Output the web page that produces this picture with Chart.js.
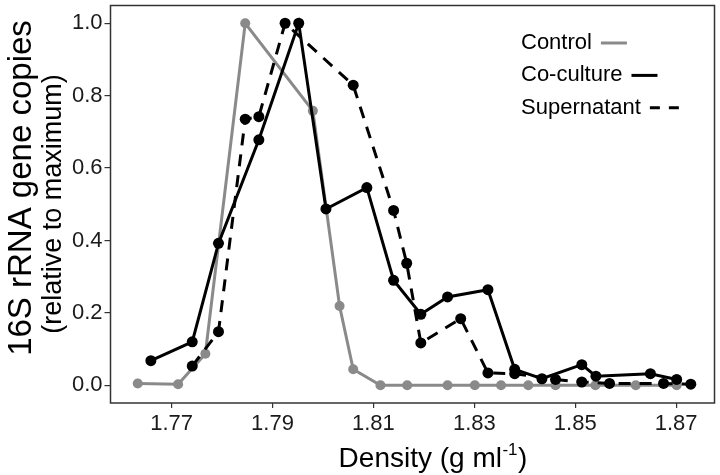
<!DOCTYPE html>
<html>
<head>
<meta charset="utf-8">
<script src="https://cdn.jsdelivr.net/npm/chart.js@4/dist/chart.umd.min.js"></script>
<style>
  html, body { margin: 0; padding: 0; background: #ffffff; }
  #wrap { width: 720px; height: 475px; position: relative; }
</style>
</head>
<body>
<div id="wrap"><canvas id="c"></canvas></div>
<script>
// ---- data ----
const seriesNames = ["Control", "Co-culture", "Supernatant"];

const controlX = [1.7633, 1.7713, 1.7767, 1.7846, 1.7980, 1.8033, 1.8060, 1.8114, 1.8167, 1.8247, 1.8301, 1.8353, 1.8407, 1.8461, 1.8540, 1.8620, 1.8701];
const controlY = [0.005, 0.003, 0.087, 1.000, 0.758, 0.219, 0.044, 0.000, 0.000, 0.000, 0.000, 0.000, 0.000, 0.000, 0.000, 0.000, 0.000];

const cocultureX = [1.7659, 1.7741, 1.7793, 1.7873, 1.7952, 1.8006, 1.8087, 1.8140, 1.8194, 1.8247, 1.8327, 1.8380, 1.8434, 1.8513, 1.8541, 1.8649, 1.8701];
const cocultureY = [0.068, 0.120, 0.392, 0.678, 1.000, 0.487, 0.546, 0.290, 0.196, 0.244, 0.264, 0.044, 0.018, 0.057, 0.025, 0.032, 0.016];

const supernatantX = [1.7741, 1.7793, 1.7846, 1.7873, 1.7925, 1.8060, 1.8140, 1.8166, 1.8194, 1.8273, 1.8327, 1.8380, 1.8461, 1.8513, 1.8568, 1.8675, 1.8729];
const supernatantY = [0.053, 0.148, 0.735, 0.742, 1.000, 0.829, 0.483, 0.337, 0.117, 0.184, 0.034, 0.032, 0.016, 0.009, 0.005, 0.005, 0.003];

const xTicks = [1.77, 1.79, 1.81, 1.83, 1.85, 1.87];
const yTicks = [0.0, 0.2, 0.4, 0.6, 0.8, 1.0];

const xTitleMain = "Density (g ml";
const xTitleSup = "-1";
const xTitleEnd = ")";
const yTitle1 = "16S rRNA gene copies";
const yTitle2 = "(relative to maximum)";

// ---- styling ----
const FONT = "'Liberation Sans', Arial, Helvetica, sans-serif";
const GREY = "#8a8a8a";
const BLACK = "#000000";
const DASH = [12, 9];

function pts(xs, ys) { return xs.map((x, i) => ({ x: x, y: ys[i] })); }

const datasets = [
  { label: seriesNames[0], data: pts(controlX, controlY), borderColor: GREY, backgroundColor: GREY,
    pointBackgroundColor: GREY, pointBorderColor: GREY, borderWidth: 3, pointRadius: 5, order: 3, legendDash: [] },
  { label: seriesNames[1], data: pts(cocultureX, cocultureY), borderColor: BLACK, backgroundColor: BLACK,
    pointBackgroundColor: BLACK, pointBorderColor: BLACK, borderWidth: 3, pointRadius: 5.5, order: 2, legendDash: [] },
  { label: seriesNames[2], data: pts(supernatantX, supernatantY), borderColor: BLACK, backgroundColor: BLACK,
    pointBackgroundColor: BLACK, pointBorderColor: BLACK, borderWidth: 3, pointRadius: 5.5, borderDash: DASH, order: 1, legendDash: [10, 9] }
];
datasets.forEach(d => { d.pointBorderWidth = 0; d.tension = 0; d.fill = false; d.pointHoverRadius = d.pointRadius; });

const frame = {
  id: 'frame',
  afterDatasetsDraw(chart) {
    const { ctx, chartArea: a } = chart;
    ctx.save();
    ctx.strokeStyle = "#333333";
    ctx.lineWidth = 1.5;
    ctx.strokeRect(a.left, a.top, a.right - a.left, a.bottom - a.top);
    ctx.restore();
  }
};

const titles = {
  id: 'titles',
  afterDraw(chart) {
    const { ctx, chartArea: a } = chart;
    ctx.save();
    ctx.fillStyle = "#000";
    // x title with superscript
    const mainF = "28px " + FONT, supF = "17px " + FONT;
    ctx.font = mainF;
    const w1 = ctx.measureText(xTitleMain).width;
    const w3 = ctx.measureText(xTitleEnd).width;
    ctx.font = supF;
    const w2 = ctx.measureText(xTitleSup).width;
    const total = w1 + w2 + w3 + 1;
    let x0 = 433 - total / 2;
    const by = 467;
    ctx.textBaseline = "alphabetic";
    ctx.textAlign = "left";
    ctx.font = mainF; ctx.fillText(xTitleMain, x0, by);
    ctx.font = supF; ctx.fillText(xTitleSup, x0 + w1 + 0.5, by - 12);
    ctx.font = mainF; ctx.fillText(xTitleEnd, x0 + w1 + w2 + 1, by);
    ctx.restore();

    // y titles (rotated)
    ctx.save();
    ctx.fillStyle = "#000";
    ctx.textAlign = "center";
    ctx.textBaseline = "alphabetic";
    ctx.save();
    ctx.translate(31, 188);
    ctx.rotate(-Math.PI / 2);
    ctx.font = "33px " + FONT;
    ctx.fillText(yTitle1, 0, 0);
    ctx.restore();
    ctx.save();
    ctx.translate(61, 204);
    ctx.rotate(-Math.PI / 2);
    ctx.font = "27px " + FONT;
    ctx.fillText(yTitle2, 0, 0);
    ctx.restore();
    ctx.restore();

    // legend: text then line sample
    ctx.save();
    ctx.font = "22px " + FONT;
    ctx.textBaseline = "middle";
    ctx.textAlign = "left";
    const lx = 521, ly0 = 43, dy = 32.4;
    const sampleLen = [26, 26, 31];
    chart.data.datasets.forEach((d, i) => {
      const y = ly0 + i * dy;
      ctx.fillStyle = "#000";
      ctx.fillText(d.label, lx, y);
      const tw = ctx.measureText(d.label).width;
      ctx.strokeStyle = d.borderColor;
      ctx.lineWidth = 3;
      ctx.setLineDash(d.legendDash);
      ctx.beginPath();
      ctx.moveTo(lx + tw + 9, y);
      ctx.lineTo(lx + tw + 9 + sampleLen[i], y);
      ctx.stroke();
    });
    ctx.restore();
  }
};

new Chart(document.getElementById('c'), {
  type: 'line',
  data: { datasets: datasets },
  options: {
    responsive: true,
    maintainAspectRatio: false,
    animation: false,
    layout: { padding: { left: 0, right: 4, top: 1, bottom: 0 } },
    plugins: { legend: { display: false }, tooltip: { enabled: false }, title: { display: false } },
    scales: {
      x: {
        type: 'linear',
        min: 1.7579, max: 1.8776,
        afterBuildTicks(s) { s.ticks = xTicks.map(v => ({ value: v })); },
        afterFit(s) { s.height = 72; s.paddingLeft = 0; s.paddingRight = 0; },
        border: { display: false },
        grid: { display: true, drawOnChartArea: false, drawTicks: true, tickLength: 5, color: "#333333", lineWidth: 1.2 },
        ticks: { font: { family: FONT, size: 22 }, color: "#1a1a1a", padding: 3, maxRotation: 0,
                 callback: v => Number(v).toFixed(2) }
      },
      y: {
        type: 'linear',
        min: -0.049, max: 1.049,
        afterBuildTicks(s) { s.ticks = yTicks.map(v => ({ value: v })); },
        afterFit(s) { s.width = 110.5; s.paddingTop = 0; s.paddingBottom = 0; },
        border: { display: false },
        grid: { display: true, drawOnChartArea: false, drawTicks: true, tickLength: 6, color: "#333333", lineWidth: 1.2 },
        ticks: { font: { family: FONT, size: 22 }, color: "#1a1a1a", padding: 2,
                 callback: v => Number(v).toFixed(1) }
      }
    }
  },
  plugins: [frame, titles]
});
</script>
</body>
</html>
